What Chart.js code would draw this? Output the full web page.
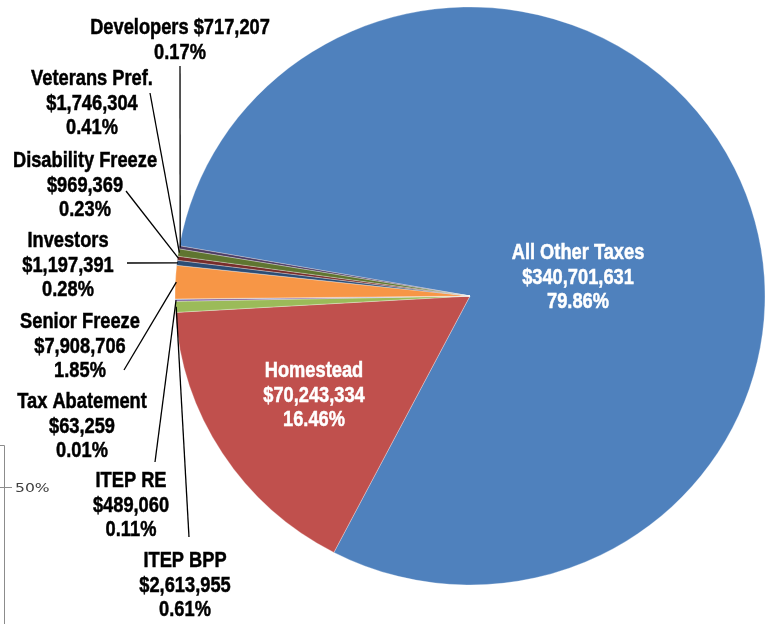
<!DOCTYPE html>
<html>
<head>
<meta charset="utf-8">
<script src="https://cdn.jsdelivr.net/npm/chart.js@4.4.0/dist/chart.umd.min.js"></script>
<style>
  html, body { margin: 0; padding: 0; background: #fff; }
  #wrap { width: 772px; height: 624px; }
</style>
</head>
<body>
<div id="wrap"><canvas id="taxPie" width="772" height="624"></canvas></div>
<script>
// Tax distribution pie - outside labels with leader lines

const categories = ['All Other Taxes', 'Homestead', 'ITEP BPP', 'ITEP RE', 'Tax Abatement',
  'Senior Freeze', 'Investors', 'Disability Freeze', 'Veterans Pref.', 'Developers'];
const amounts = [340701631, 70243334, 2613955, 489060, 63259, 7908706, 1197391, 969369, 1746304, 717207];
const sliceColors = ['#4F81BD', '#C0504D', '#9BBB59', '#8064A2', '#4BACC6',
  '#F79646', '#2C4D75', '#772C2A', '#5F7530', '#4D3B62'];

// where each label sits: centre x, first baseline, line end near the text (null = no leader)
const labelLayout = [
  { x: 578, y: 259, inside: true },
  { x: 314, y: 377, inside: true },
  { x: 185, y: 567, lead: [189, 537] },
  { x: 131, y: 487, lead: [155, 462] },
  { x: 82, y: 408, lead: null },
  { x: 80, y: 328, lead: [124, 370] },
  { x: 68, y: 247, lead: [127, 263] },
  { x: 85, y: 167, lead: [126, 191] },
  { x: 92, y: 85, lead: [150, 93] },
  { x: 180, y: 34, lead: [180, 66], join: true }
];

const Y_SCALE = 289 / 295; // the original pie is a little squashed
const LINE_H = 24.5;
const TEXT_SQUEEZE = 0.83; // fake a condensed face
const FONT = "bold 22px 'Liberation Sans', Arial, sans-serif";

const total = amounts.reduce((a, b) => a + b, 0);
const money = v => '$' + v.toLocaleString('en-US');
const pct = v => (v / total * 100).toFixed(2) + '%';

function narrowText(ctx, text, x, y) {
  ctx.save();
  ctx.translate(x, y);
  ctx.scale(TEXT_SQUEEZE, 1);
  ctx.fillText(text, 0, 0);
  ctx.strokeText(text, 0, 0); // a touch heavier, like the original face
  ctx.restore();
}

const squashPlugin = {
  id: 'squash',
  beforeDatasetsDraw(chart) {
    const arc = chart.getDatasetMeta(0).data[0];
    const ctx = chart.ctx;
    ctx.save();
    ctx.translate(arc.x, arc.y);
    ctx.scale(1, Y_SCALE);
    ctx.translate(-arc.x, -arc.y);
  },
  afterDatasetsDraw(chart) {
    chart.ctx.restore();
  }
};

const labelPlugin = {
  id: 'pieLabels',
  afterDraw(chart) {
    const ctx = chart.ctx;
    const arcs = chart.getDatasetMeta(0).data;
    ctx.save();
    ctx.font = FONT;
    ctx.textAlign = 'center';
    ctx.textBaseline = 'alphabetic';

    arcs.forEach((arc, i) => {
      const pos = labelLayout[i];
      const lines = pos.join
        ? [categories[i] + ' ' + money(amounts[i]), pct(amounts[i])]
        : [categories[i], money(amounts[i]), pct(amounts[i])];

      const col = pos.inside ? '#ffffff' : '#000000';
      ctx.fillStyle = col;
      ctx.strokeStyle = col;
      ctx.lineWidth = 0.5;
      lines.forEach((t, k) => narrowText(ctx, t, pos.x, pos.y + k * LINE_H));

      if (pos.lead) {
        const mid = (arc.startAngle + arc.endAngle) / 2;
        const r = arc.outerRadius - 1;
        const ax = arc.x + Math.cos(mid) * r;
        const ay = arc.y + Math.sin(mid) * r * Y_SCALE;
        ctx.strokeStyle = '#000000';
        ctx.lineWidth = 1.3;
        ctx.beginPath();
        ctx.moveTo(pos.lead[0], pos.lead[1]);
        ctx.lineTo(ax, ay);
        ctx.stroke();
      }
    });

    // leftover piece of a neighbouring chart's axis in the corner
    ctx.strokeStyle = '#8c8c8c';
    ctx.lineWidth = 1;
    ctx.beginPath();
    ctx.moveTo(0, 445.5);
    ctx.lineTo(4.5, 445.5);
    ctx.lineTo(4.5, 624);
    ctx.moveTo(0, 487.5);
    ctx.lineTo(12, 487.5);
    ctx.stroke();
    ctx.fillStyle = '#404040';
    ctx.font = "12px 'DejaVu Sans', sans-serif";
    ctx.textAlign = 'left';
    ctx.translate(15, 492);
    ctx.scale(1.3, 1);
    ctx.fillText('50%', 0, 0);
    ctx.restore();
  }
};

new Chart(document.getElementById('taxPie'), {
  type: 'pie',
  data: {
    labels: categories,
    datasets: [{
      data: amounts,
      backgroundColor: sliceColors,
      borderColor: 'rgba(255,255,255,0.6)',
      borderWidth: 0.5
    }]
  },
  options: {
    responsive: false,
    animation: false,
    events: [],
    rotation: -80,
    radius: 295,
    layout: { padding: { left: 175, right: 7, top: 1, bottom: 33 } },
    plugins: {
      legend: { display: false },
      tooltip: { enabled: false }
    }
  },
  plugins: [squashPlugin, labelPlugin]
});
</script>
</body>
</html>
